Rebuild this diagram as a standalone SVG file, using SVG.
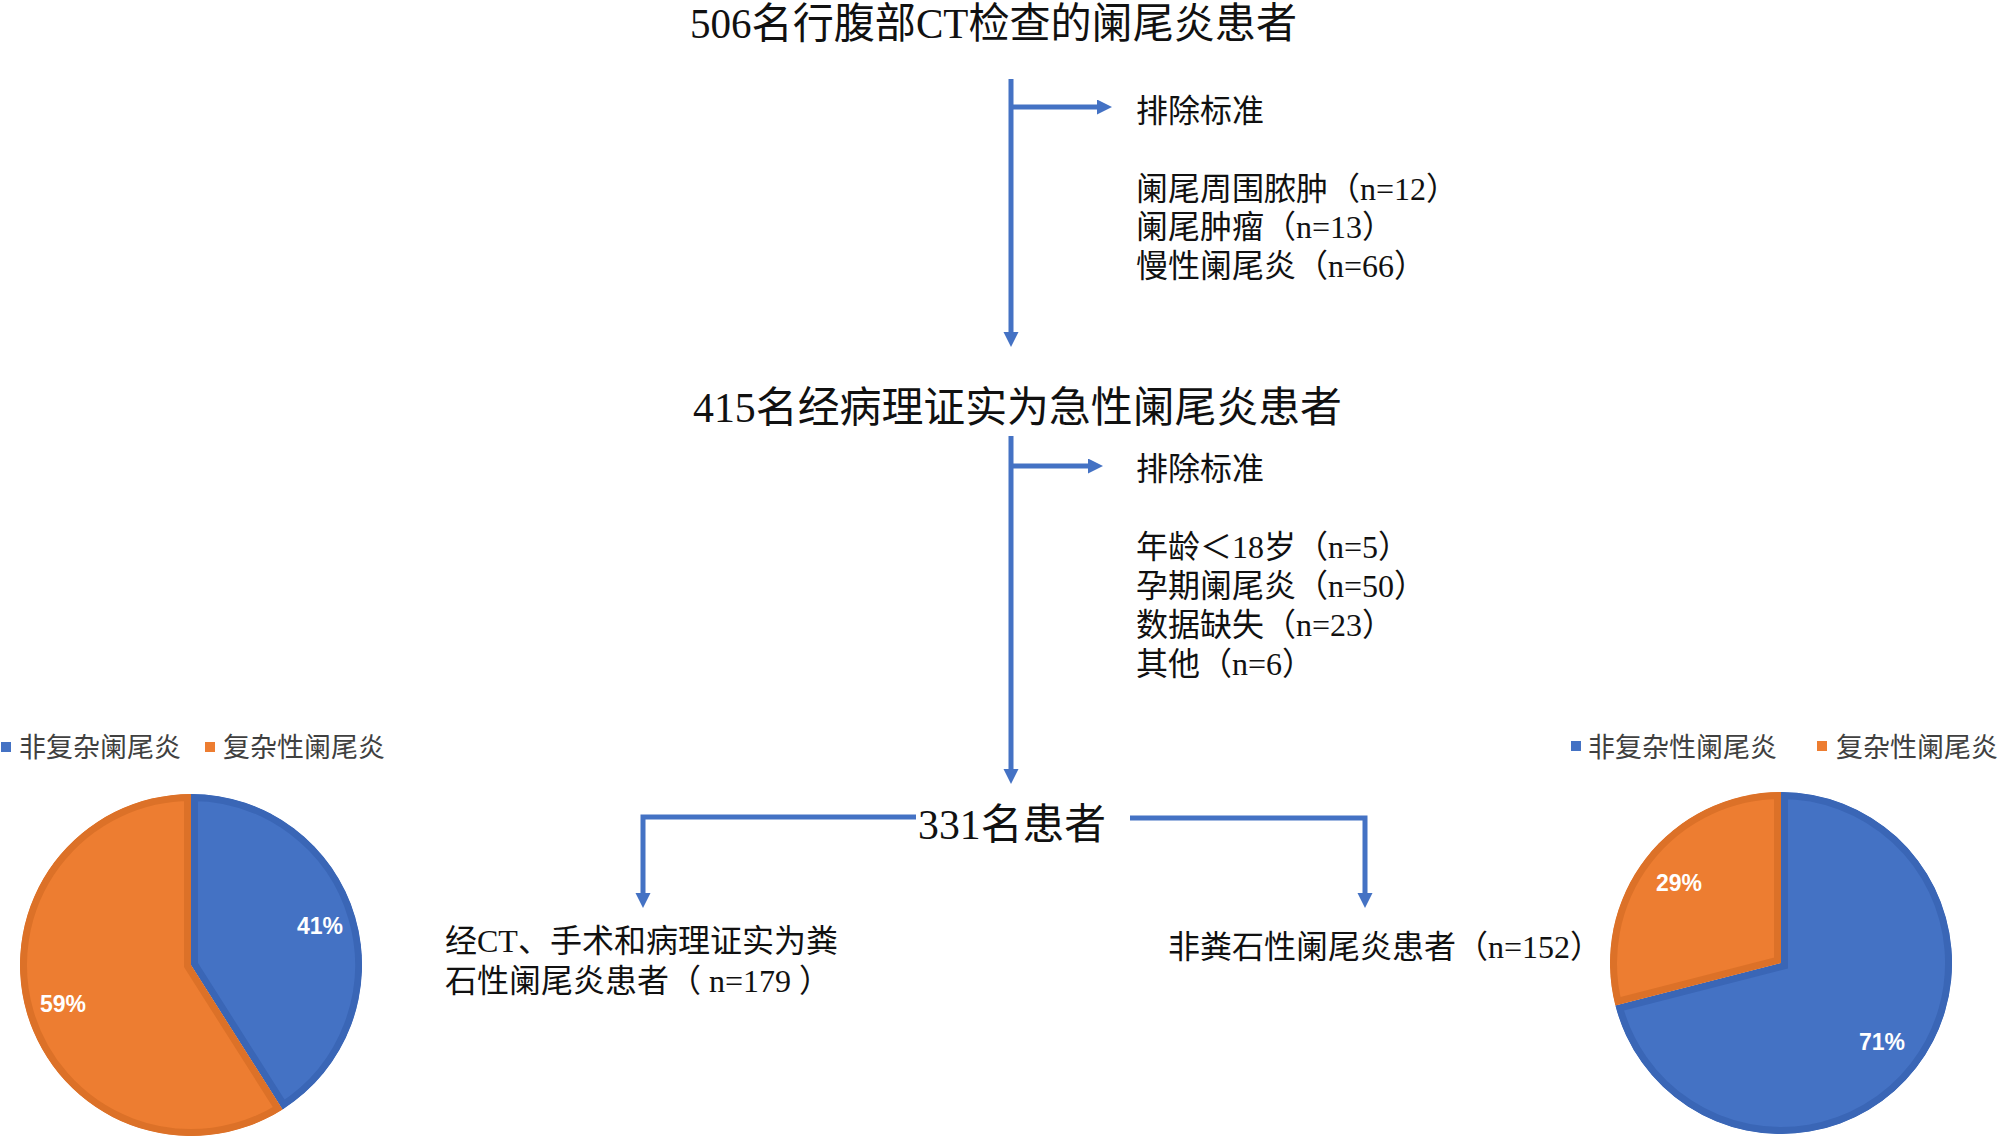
<svg xmlns="http://www.w3.org/2000/svg" width="2000" height="1137" viewBox="0 0 2000 1137">
<style>
.t{font-family:"Liberation Serif","Noto Sans CJK SC",serif;fill:#111;}
.big{font-size:42px;}
.mid{font-size:32px;}
.leg{font-family:"Noto Sans CJK SC",sans-serif;font-size:27px;fill:#404040;}
.pct{font-family:"Liberation Sans",Arial,sans-serif;font-size:23px;font-weight:bold;fill:#fff;text-anchor:middle;}
.conn{fill:none;stroke:#4472C4;stroke-width:5;}
.blue{fill:#4472C4;stroke:#3A66B6;stroke-width:14;}
.orange{fill:#ED7D31;stroke:#DC7128;stroke-width:14;}
</style>
<defs>
<marker id="ah" markerUnits="userSpaceOnUse" markerWidth="16" markerHeight="16" refX="1" refY="7.5" orient="auto">
<path d="M0,0 L15,7.5 L0,15 z" fill="#4472C4"/>
</marker>
<clipPath id="cL1"><path d="M191,965 L191,794 A171,171 0 0,1 282.6,1109.4 Z"/></clipPath>
<clipPath id="cL2"><path d="M191,965 L282.6,1109.4 A171,171 0 1,1 191,794 Z"/></clipPath>
<clipPath id="cR1"><path d="M1781,963 L1781,792 A171,171 0 1,1 1615.4,1005.5 Z"/></clipPath>
<clipPath id="cR2"><path d="M1781,963 L1615.4,1005.5 A171,171 0 0,1 1781,792 Z"/></clipPath>
</defs>
<rect width="2000" height="1137" fill="#fff"/>

<g id="connectors">
<path class="conn" d="M1011,79 L1011,333" marker-end="url(#ah)"/>
<path class="conn" d="M1011,107 L1098,107" marker-end="url(#ah)"/>
<path class="conn" d="M1011,436 L1011,770" marker-end="url(#ah)"/>
<path class="conn" d="M1011,466 L1089,466" marker-end="url(#ah)"/>
<path class="conn" d="M916,817 L643,817 L643,894" marker-end="url(#ah)"/>
<path class="conn" d="M1130,818 L1365,818 L1365,894" marker-end="url(#ah)"/>
</g>

<g id="n-start"><text class="t big" x="690" y="38" textLength="607" lengthAdjust="spacingAndGlyphs">506名行腹部CT检查的阑尾炎患者</text></g>
<g id="n-excl1">
<text class="t mid" x="1136" y="122">排除标准</text>
<text class="t mid" x="1136" y="200">阑尾周围脓肿（n=12）</text>
<text class="t mid" x="1136" y="238">阑尾肿瘤（n=13）</text>
<text class="t mid" x="1136" y="277">慢性阑尾炎（n=66）</text>
</g>
<g id="n-acute"><text class="t big" x="693" y="422" textLength="649" lengthAdjust="spacingAndGlyphs">415名经病理证实为急性阑尾炎患者</text></g>
<g id="n-excl2">
<text class="t mid" x="1136" y="480">排除标准</text>
<text class="t mid" x="1136" y="558">年龄＜18岁（n=5）</text>
<text class="t mid" x="1136" y="597">孕期阑尾炎（n=50）</text>
<text class="t mid" x="1136" y="636">数据缺失（n=23）</text>
<text class="t mid" x="1136" y="675">其他（n=6）</text>
</g>
<g id="n-331"><text class="t big" x="918" y="839" textLength="188" lengthAdjust="spacingAndGlyphs">331名患者</text></g>
<g id="n-fecalith">
<text class="t mid" x="445" y="952">经CT、手术和病理证实为粪</text>
<text class="t mid" x="445" y="992">石性阑尾炎患者（ n=179 ）</text>
</g>
<g id="n-nonfecalith"><text class="t mid" x="1168" y="958">非粪石性阑尾炎患者（n=152）</text></g>

<g id="pie-left">
<rect x="1" y="742" width="10" height="10" fill="#4472C4"/>
<text class="leg" x="19" y="757">非复杂阑尾炎</text>
<rect x="205" y="742" width="10" height="10" fill="#ED7D31"/>
<text class="leg" x="223" y="757">复杂性阑尾炎</text>
<path class="blue" clip-path="url(#cL1)" d="M191,965 L191,794 A171,171 0 0,1 282.6,1109.4 Z"/>
<path class="orange" clip-path="url(#cL2)" d="M191,965 L282.6,1109.4 A171,171 0 1,1 191,794 Z"/>
<text class="pct" x="320" y="934">41%</text>
<text class="pct" x="63" y="1012">59%</text>
</g>

<g id="pie-right">
<rect x="1571" y="741" width="10" height="10" fill="#4472C4"/>
<text class="leg" x="1588" y="757">非复杂性阑尾炎</text>
<rect x="1817" y="741" width="10" height="10" fill="#ED7D31"/>
<text class="leg" x="1836" y="757">复杂性阑尾炎</text>
<path class="blue" clip-path="url(#cR1)" d="M1781,963 L1781,792 A171,171 0 1,1 1615.4,1005.5 Z"/>
<path class="orange" clip-path="url(#cR2)" d="M1781,963 L1615.4,1005.5 A171,171 0 0,1 1781,792 Z"/>
<text class="pct" x="1679" y="891">29%</text>
<text class="pct" x="1882" y="1050">71%</text>
</g>
</svg>
